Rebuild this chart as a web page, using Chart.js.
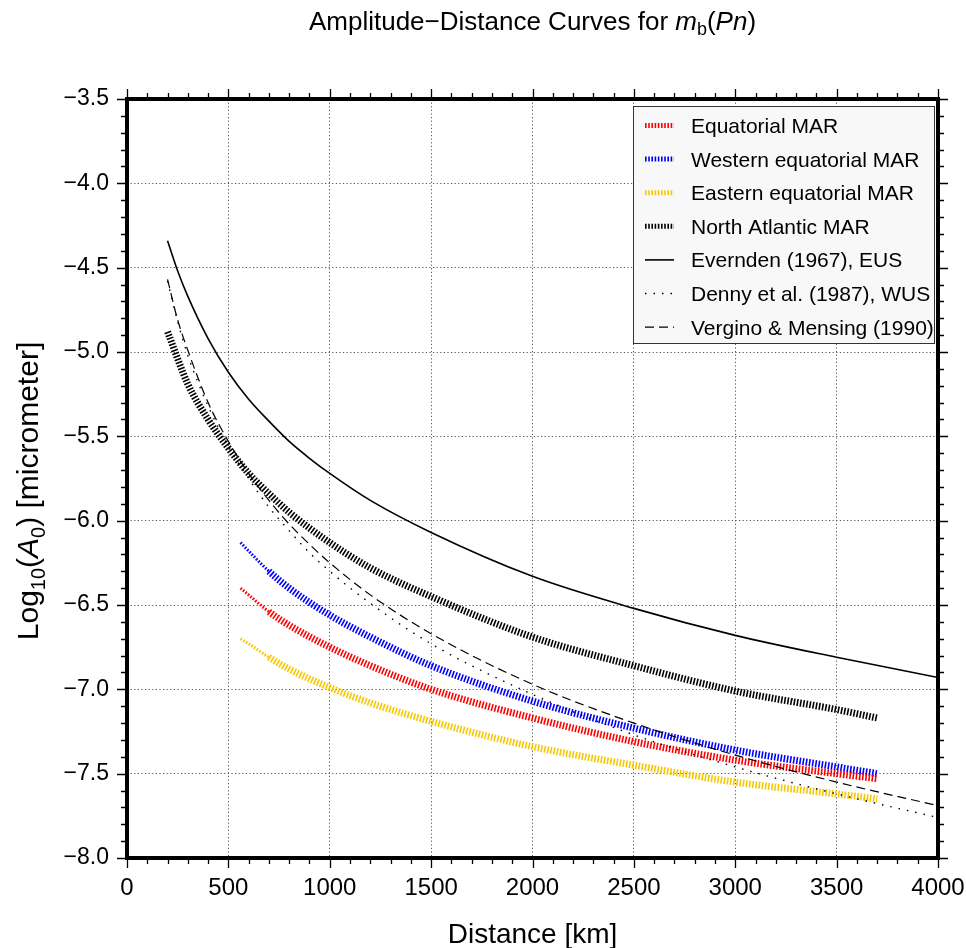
<!DOCTYPE html>
<html><head><meta charset="utf-8">
<script src="https://cdn.jsdelivr.net/npm/chart.js@4.4.1/dist/chart.umd.min.js"></script>
<style>html,body{margin:0;padding:0;background:#fff;}#wrap{width:966px;height:948px;}</style>
</head><body><div id="wrap"><canvas id="c" width="966" height="948"></canvas></div>
<script>
const FONT = '"Liberation Sans", Arial, Helvetica, sans-serif';

// ---- data ----
const marDist = [560, 600, 700, 800, 1000, 1200, 1500, 2000, 2500, 3000, 3500, 3700];
const equatorialMAR = [-6.40, -6.44, -6.54, -6.62, -6.75, -6.86, -7.00, -7.17, -7.31, -7.42, -7.50, -7.53];
const westernMAR    = [-6.13, -6.18, -6.30, -6.40, -6.56, -6.69, -6.86, -7.07, -7.23, -7.36, -7.46, -7.50];
const easternMAR    = [-6.70, -6.73, -6.81, -6.88, -6.99, -7.08, -7.19, -7.34, -7.45, -7.55, -7.62, -7.65];

const naDist = [200, 300, 400, 500, 600, 700, 800, 1000, 1200, 1500, 2000, 2500, 3000, 3500, 3700];
const northAtlanticMAR = [-4.88, -5.19, -5.40, -5.57, -5.72, -5.84, -5.95, -6.13, -6.28, -6.45, -6.69, -6.86, -7.01, -7.12, -7.17];

const refDist = [200, 250, 300, 400, 500, 600, 700, 800, 900, 1000, 1200, 1500, 2000, 2500, 3000, 3500, 4000];
const evernden = [-4.34, -4.52, -4.67, -4.92, -5.12, -5.28, -5.41, -5.53, -5.63, -5.72, -5.88, -6.07, -6.33, -6.52, -6.68, -6.81, -6.93];
const denny    = [-4.58, -4.82, -5.02, -5.32, -5.56, -5.75, -5.92, -6.06, -6.19, -6.30, -6.49, -6.73, -7.03, -7.27, -7.46, -7.62, -7.76];
const vergino  = [-4.57, -4.81, -4.99, -5.30, -5.53, -5.72, -5.88, -6.02, -6.14, -6.25, -6.44, -6.67, -6.97, -7.20, -7.39, -7.55, -7.69];

const seriesNames = ['Equatorial MAR', 'Western equatorial MAR', 'Eastern equatorial MAR', 'North Atlantic MAR',
  'Evernden (1967), EUS', 'Denny et al. (1987), WUS', 'Vergino & Mensing (1990)'];

const xTicks = [0, 500, 1000, 1500, 2000, 2500, 3000, 3500, 4000];
const yTicks = [-8.0, -7.5, -7.0, -6.5, -6.0, -5.5, -5.0, -4.5, -4.0, -3.5];

const pts = (xs, ys) => xs.map((v, i) => ({x: v, y: ys[i]}));

const thinStart = (w) => (ctx) => ctx.p0.parsed.x < 690 ? 3 : w;

function thick(label, color, xs, ys, thinFirst) {
  const ds = {
    label, data: pts(xs, ys), borderColor: color, backgroundColor: color,
    borderWidth: 7, borderDash: [1.6, 1.6], pointRadius: 0, fill: false,
    cubicInterpolationMode: 'monotone', order: 2, _legendThick: true
  };
  if (thinFirst) ds.segment = { borderWidth: thinStart(7) };
  return ds;
}

const datasets = [
  thick(seriesNames[0], '#ff0000', marDist, equatorialMAR, true),
  thick(seriesNames[1], '#0000ff', marDist, westernMAR, true),
  thick(seriesNames[2], '#f5c800', marDist, easternMAR, true),
  thick(seriesNames[3], '#000000', naDist, northAtlanticMAR, false),
  { label: seriesNames[4], data: pts(refDist, evernden), borderColor: '#000', borderWidth: 1.6,
    pointRadius: 0, cubicInterpolationMode: 'monotone', order: 1 },
  { label: seriesNames[5], data: pts(refDist, denny), borderColor: '#000', borderWidth: 1.4, borderDash: [1.5, 7],
    pointRadius: 0, cubicInterpolationMode: 'monotone', order: 1 },
  { label: seriesNames[6], data: pts(refDist, vergino), borderColor: '#000', borderWidth: 1.2, borderDash: [9, 5],
    pointRadius: 0, cubicInterpolationMode: 'monotone', order: 1 }
];

function fmtY(v) { const s = Number(v).toFixed(1); return s.replace('-', '\u2212'); }

function drawRich(ctx, parts, x, y, align) {
  let total = 0;
  const widths = parts.map(p => {
    ctx.font = (p.italic ? 'italic ' : '') + p.size + 'px ' + FONT;
    const w = ctx.measureText(p.t).width; total += w; return w;
  });
  let cx = align === 'center' ? x - total / 2 : x;
  parts.forEach((p, i) => {
    ctx.font = (p.italic ? 'italic ' : '') + p.size + 'px ' + FONT;
    ctx.fillText(p.t, cx, y + (p.dy || 0));
    cx += widths[i];
  });
}

const decor = {
  id: 'decor',
  afterDraw(chart) {
    const {ctx, chartArea: a, scales: {x, y}} = chart;
    ctx.save();
    ctx.strokeStyle = '#000';
    ctx.lineCap = 'butt';
    ctx.lineWidth = 1.3;
    ctx.beginPath();
    for (let v = 0; v <= 4000; v += 100) {
      const px = Math.round(x.getPixelForValue(v)) + 0.5;
      const L = (v % 500 === 0) ? 10 : 6;
      ctx.moveTo(px, a.top); ctx.lineTo(px, a.top - L);
      ctx.moveTo(px, a.bottom); ctx.lineTo(px, a.bottom + L);
    }
    for (let k = 0; k <= 45; k++) {
      const v = -8 + k * 0.1;
      const py = Math.round(y.getPixelForValue(v)) + 0.5;
      const L = (k % 5 === 0) ? 10 : 6;
      ctx.moveTo(a.left, py); ctx.lineTo(a.left - L, py);
      ctx.moveTo(a.right, py); ctx.lineTo(a.right + L, py);
    }
    ctx.stroke();
    ctx.lineWidth = 4;
    ctx.strokeRect(a.left, a.top, a.right - a.left, a.bottom - a.top);

    // legend
    const lx = 633, ly = 106, lw = 301, lh = 237;
    ctx.fillStyle = '#f8f8f8';
    ctx.fillRect(lx, ly, lw, lh);
    ctx.lineWidth = 1;
    ctx.strokeStyle = '#333';
    ctx.strokeRect(lx + 0.5, ly + 0.5, lw, lh);
    chart.data.datasets.forEach((ds, i) => {
      const cy = 125.5 + i * 33.6;
      ctx.save();
      ctx.strokeStyle = ds.borderColor;
      if (ds._legendThick) {
        ctx.lineWidth = 5; ctx.setLineDash([1.6, 1.6]);
      } else {
        ctx.lineWidth = ds.borderWidth; ctx.setLineDash(ds.borderDash || []);
      }
      ctx.beginPath(); ctx.moveTo(645, cy); ctx.lineTo(674, cy); ctx.stroke();
      ctx.restore();
      ctx.fillStyle = '#000';
      ctx.font = '21px ' + FONT;
      ctx.textBaseline = 'alphabetic';
      ctx.textAlign = 'left';
      ctx.fillText(ds.label, 691, cy + 7.5);
    });

    // title
    ctx.fillStyle = '#000';
    ctx.textBaseline = 'alphabetic';
    ctx.textAlign = 'left';
    drawRich(ctx, [
      {t: 'Amplitude\u2212Distance Curves for ', size: 26},
      {t: 'm', italic: true, size: 26},
      {t: 'b', size: 18, dy: 5},
      {t: '(', size: 26},
      {t: 'Pn', italic: true, size: 26},
      {t: ')', size: 26}
    ], (a.left + a.right) / 2, 30, 'center');

    // x axis title
    ctx.font = '28px ' + FONT;
    ctx.textAlign = 'center';
    ctx.fillText('Distance [km]', (a.left + a.right) / 2, 943);

    // y axis title (rotated)
    ctx.save();
    ctx.translate(38, 491);
    ctx.rotate(-Math.PI / 2);
    ctx.textAlign = 'left';
    drawRich(ctx, [
      {t: 'Log', size: 30},
      {t: '10', size: 20, dy: 7},
      {t: '(', size: 30},
      {t: 'A', italic: true, size: 30},
      {t: '0', size: 20, dy: 7},
      {t: ') [micrometer]', size: 30}
    ], 0, 0, 'center');
    ctx.restore();
    ctx.restore();
  }
};

Chart.defaults.font.family = FONT;
Chart.defaults.color = '#000';

new Chart(document.getElementById('c'), {
  type: 'line',
  data: { datasets },
  options: {
    responsive: false,
    devicePixelRatio: 1,
    animation: false,
    layout: { padding: { top: 99, right: 28, left: 0, bottom: 0 } },
    plugins: { legend: { display: false }, title: { display: false }, tooltip: { enabled: false } },
    scales: {
      x: {
        type: 'linear', min: 0, max: 4000,
        afterBuildTicks: (s) => { s.ticks = xTicks.map(v => ({value: v})); },
        afterFit: (s) => { s.height = 90; s.paddingLeft = 0; s.paddingRight = 0; },
        ticks: { font: { size: 24 }, padding: 16, maxRotation: 0, color: '#000', callback: (v) => String(v) },
        grid: { color: '#555', lineWidth: 1, drawTicks: false },
        border: { display: false, dash: [1.2, 2.4] }
      },
      y: {
        type: 'linear', min: -8, max: -3.5,
        afterBuildTicks: (s) => { s.ticks = yTicks.map(v => ({value: v})); },
        afterFit: (s) => { s.width = 127; s.paddingTop = 0; s.paddingBottom = 0; },
        ticks: { font: { size: 23 }, padding: 18, color: '#000', callback: (v) => fmtY(v) },
        grid: { color: '#555', lineWidth: 1, drawTicks: false },
        border: { display: false, dash: [1.2, 2.4] }
      }
    }
  },
  plugins: [decor]
});
</script>
</body></html>
